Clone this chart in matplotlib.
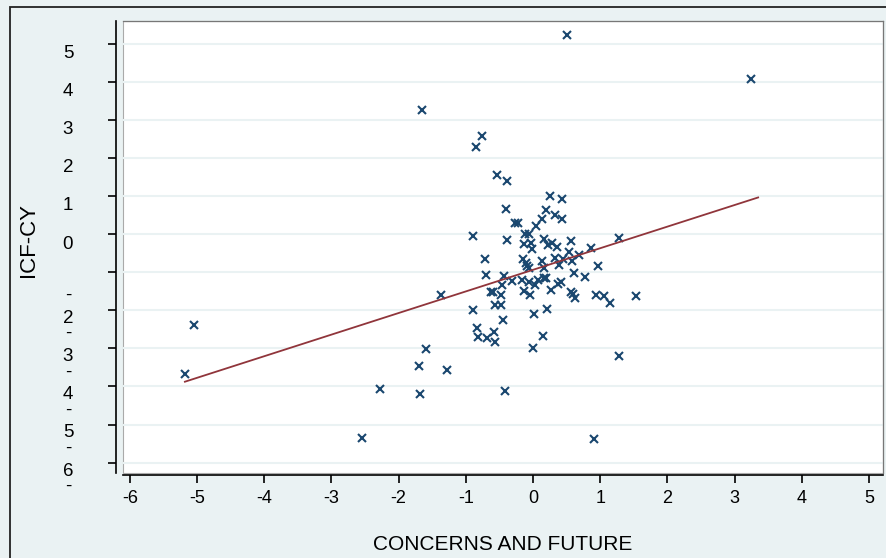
import matplotlib.pyplot as plt
from matplotlib.patches import Rectangle
from matplotlib.transforms import ScaledTranslation
import numpy as np

# scatter points (CONCERNS AND FUTURE vs ICF-CY)
concerns = [0.50, 3.24, -1.65, -0.76, -0.85, -0.53, -0.38, 0.26, 0.43, -0.40,
            0.20, 0.14, 0.32, 0.43, -0.27, -0.23, 0.04, -0.06, -0.12, -0.89,
            -0.38, 0.17, 0.56, -0.13, -0.03, 0.22, 0.29, 0.36, -0.02, 1.28,
            0.87, 0.53, 0.69, -0.72, -0.15, -0.11, 0.13, 0.32, 0.45, 0.58,
            -0.09, -0.06, 0.17, 0.38, 0.96, -0.70, -0.43, 0.61, 0.77, -0.31,
            -0.17, -0.06, 0.07, 0.16, 0.19, -0.46, 0.03, 0.37, 0.42, -0.13,
            0.27, -0.04, -0.63, -0.59, -0.48, 0.57, 0.62, 0.59, 0.94, 1.06,
            1.15, 1.53, -1.37, -0.56, -0.47, -0.89, 0.21, 0.02, -0.44, -0.83,
            -0.82, -0.68, -0.58, -0.57, 0.15, 0.00, -1.59, -1.70, -1.28, 1.28,
            -2.27, -1.68, -0.42, -5.04, -5.18, -2.54, 0.91]
icf_cy = [5.22, 4.07, 3.25, 2.57, 2.28, 1.54, 1.40, 0.99, 0.92, 0.66,
          0.63, 0.39, 0.49, 0.39, 0.28, 0.28, 0.20, 0.01, -0.01, -0.05,
          -0.17, -0.14, -0.19, -0.26, -0.23, -0.30, -0.24, -0.33, -0.40, -0.10,
          -0.37, -0.46, -0.56, -0.66, -0.65, -0.77, -0.72, -0.62, -0.66, -0.70,
          -0.85, -0.90, -0.90, -0.82, -0.85, -1.07, -1.10, -1.02, -1.12, -1.24,
          -1.21, -1.25, -1.21, -1.16, -1.15, -1.35, -1.35, -1.32, -1.26, -1.50,
          -1.46, -1.60, -1.52, -1.53, -1.59, -1.52, -1.68, -1.57, -1.60, -1.64,
          -1.81, -1.64, -1.61, -1.86, -1.87, -2.00, -1.98, -2.11, -2.26, -2.47,
          -2.70, -2.72, -2.58, -2.83, -2.67, -2.99, -3.01, -3.46, -3.57, -3.19,
          -4.06, -4.21, -4.11, -2.40, -3.67, -5.36, -5.39]

# fitted line
fit_slope = 0.567
fit_intercept = -0.94
fit_range = [-5.18, 3.35]

x_ticks = [-6, -5, -4, -3, -2, -1, 0, 1, 2, 3, 4, 5]
y_ticks = [5, 4, 3, 2, 1, 0, -1, -2, -3, -4, -5, -6]
# the y labels come out mangled in the original: digit with the minus below it
y_labels = ["5", "4", "3", "2", "1", "0", " \n-", "2\n-", "3\n-", "4\n-", "5\n-", "6\n-"]

bg = "#EAF2F3"
navy = "#1A476F"
maroon = "#90353B"
font = "Liberation Sans"

W, H = 887, 558
fig = plt.figure(figsize=(W / 100, H / 100), dpi=100, facecolor=bg)

# outer graph border (only top and left are inside the crop)
fig.add_artist(Rectangle((10 / W, -0.1), 1.2, 1 - 7 / H + 0.1, transform=fig.transFigure,
                         fill=False, edgecolor="#222222", linewidth=1.3))

ax = fig.add_axes([123 / W, 1 - 473 / H, (883 - 123) / W, (473 - 21) / H])
ax.set_facecolor("white")

ax.set_xlim(-6.101, 5.208)
ax.set_ylim(-6.273, 5.591)

ax.set_yticks(y_ticks)
ax.yaxis.grid(True, color=bg, linewidth=1.5)
ax.set_axisbelow(True)

ax.plot(concerns, icf_cy, linestyle="none", marker="x", markersize=5.5,
        markeredgewidth=1.5, color=navy, zorder=3)
fx = np.array(fit_range)
ax.plot(fx, fit_intercept + fit_slope * fx, color=maroon, linewidth=1.3, zorder=4)

# spines: black axes offset from a grey plot region frame
for side in ["top", "right"]:
    ax.spines[side].set_color("#777777")
    ax.spines[side].set_linewidth(0.9)
ax.spines["left"].set_position(("outward", 5))
ax.spines["bottom"].set_position(("outward", 1.5))
ax.spines["left"].set_linewidth(1.2)
ax.spines["bottom"].set_linewidth(1.2)
ax.patch.set_edgecolor("#AAAAAA")
ax.patch.set_linewidth(0.8)

ax.set_xticks(x_ticks)
ax.set_xticklabels([str(t) for t in x_ticks], fontsize=13, family=font)
ax.tick_params(axis="x", length=6, width=1.2, pad=5)
ax.tick_params(axis="y", length=6, width=1.2, labelleft=False)

ytrans = ax.get_yaxis_transform()
for val, lab in zip(y_ticks, y_labels):
    if "\n" in lab:
        off = ScaledTranslation(-55 / 100, -16 / 100, fig.dpi_scale_trans)
    else:
        off = ScaledTranslation(-55 / 100, -10 / 100, fig.dpi_scale_trans)
    ax.text(0, val, lab, transform=ytrans + off, ha="center", va="center",
            fontsize=13.5, family=font, linespacing=0.85, multialignment="center")

ax.set_xlabel("CONCERNS AND FUTURE", fontsize=15, family=font, labelpad=20)
ax.set_ylabel("ICF-CY", fontsize=16, family=font)
ax.yaxis.set_label_coords(-0.11, 0.515)

fig.savefig("out.png", dpi=100, facecolor=bg)
